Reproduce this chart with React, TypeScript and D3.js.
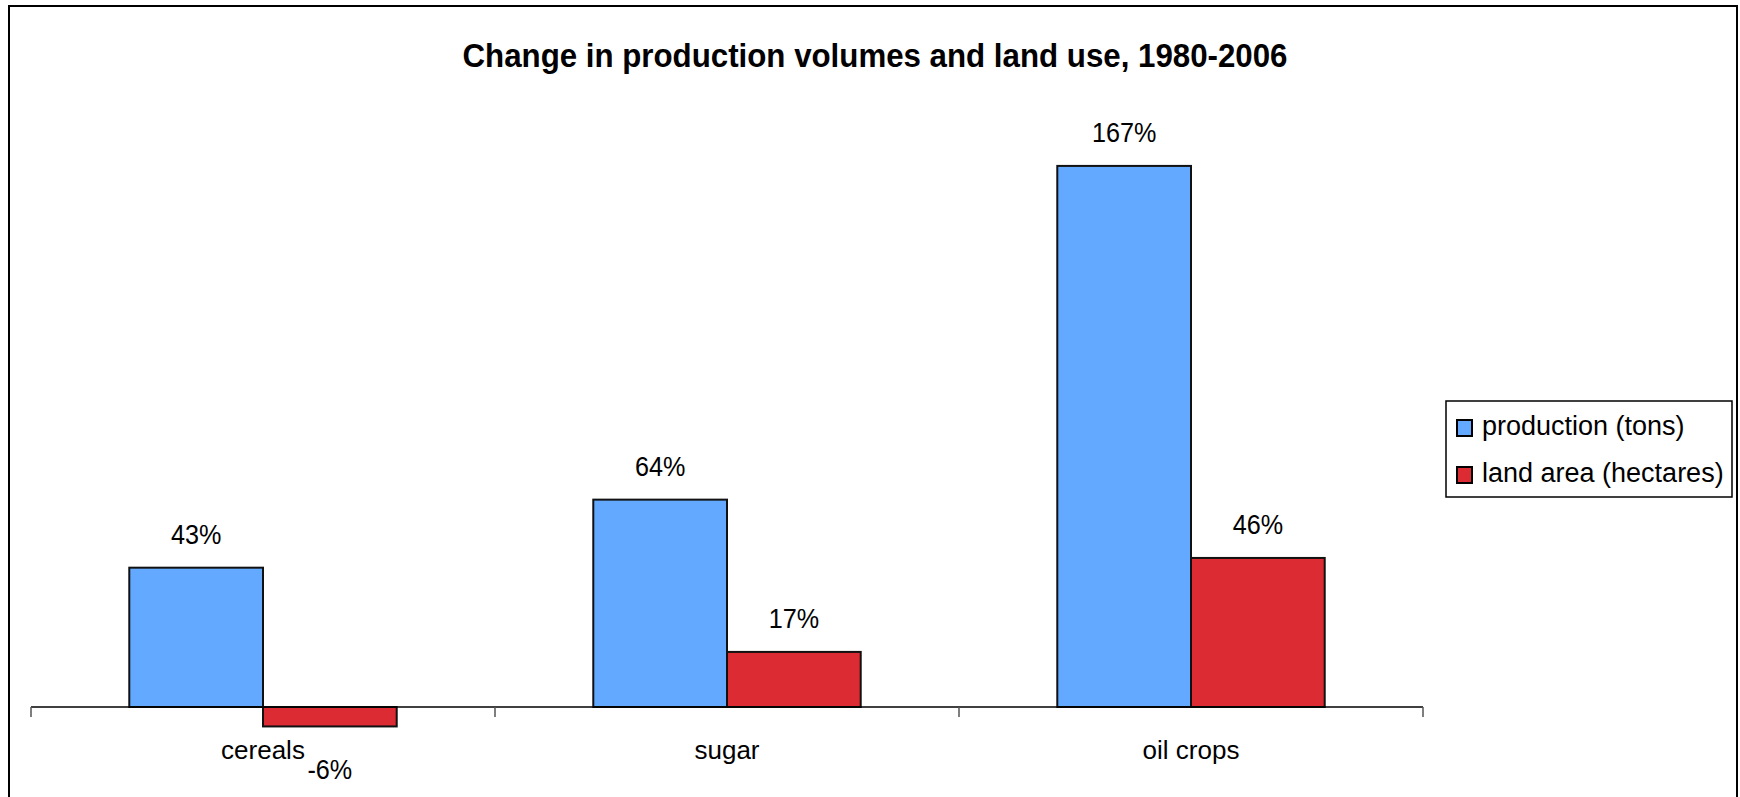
import React from "react";
import * as d3 from "d3";

const categories = ["cereals", "sugar", "oil crops"];
const seriesNames = ["production (tons)", "land area (hectares)"];
const production = [43, 64, 167];
const landArea = [-6, 17, 46];
const seriesValues = [production, landArea];
const seriesColors = ["#62A9FF", "#DC2B32"];

const title = "Change in production volumes and land use, 1980-2006";

const width = 1740;
const height = 797;
const font = "'Liberation Sans', Arial, sans-serif";

const App: React.FC = () => {
  const x = d3.scaleBand<string>().domain(categories).range([31, 1423]);

  const xInner = d3
    .scaleBand<number>()
    .domain(d3.range(seriesNames.length))
    .range([0, x.bandwidth()])
    .paddingInner(0)
    .paddingOuter(0.735);

  const y = d3.scaleLinear().domain([-20, 180]).range([771.8, 123.8]);
  const y0 = y(0);

  const [x0, x1] = x.range();
  const tickXs = [...categories.map((c) => x(c)!), x1];

  return (
    <div style={{ position: "absolute", left: 0, top: 0 }}>
      <svg width={width} height={height} style={{ display: "block", background: "#fff" }}>
        <rect x={9} y={6} width={1728} height={820} fill="#fff" stroke="#000" strokeWidth={2} />

        <text
          x={875}
          y={66.5}
          textAnchor="middle"
          fontFamily={font}
          fontWeight="bold"
          fontSize={33}
          textLength={825}
          lengthAdjust="spacingAndGlyphs"
        >
          {title}
        </text>

        {/* bars */}
        {categories.map((c, i) => (
          <g key={c} transform={`translate(${x(c)},0)`}>
            {seriesValues.map((vals, s) => {
              const v = vals[i];
              const top = Math.min(y(v), y0);
              const h = Math.abs(y(v) - y0);
              const bx = xInner(s)!;
              const cx = bx + xInner.bandwidth() / 2;
              const ly = v >= 0 ? y(v) - 23.5 : y(v) + 53;
              return (
                <g key={s}>
                  <rect
                    x={bx}
                    y={top}
                    width={xInner.bandwidth()}
                    height={h}
                    fill={seriesColors[s]}
                    stroke="#111"
                    strokeWidth={2}
                  />
                  <text
                    transform={`translate(${cx},${ly}) scale(0.9,1)`}
                    textAnchor="middle"
                    fontFamily={font}
                    fontSize={28}
                    fill="#000"
                  >
                    {v}%
                  </text>
                </g>
              );
            })}
          </g>
        ))}

        {/* category axis */}
        <line x1={x0} x2={x1} y1={y0} y2={y0} stroke="#000" strokeWidth={1.5} />
        {tickXs.map((tx, i) => (
          <line key={i} x1={tx} x2={tx} y1={y0} y2={y0 + 10} stroke="#555" strokeWidth={1.5} />
        ))}
        {categories.map((c) => (
          <text
            key={c}
            x={x(c)! + x.bandwidth() / 2}
            y={759}
            textAnchor="middle"
            fontFamily={font}
            fontSize={26}
            fill="#000"
          >
            {c}
          </text>
        ))}

        {/* legend */}
        <g transform="translate(1446,401)">
          <rect x={0} y={0} width={286} height={96} fill="#fff" stroke="#000" strokeWidth={1.5} />
          {seriesNames.map((name, s) => (
            <g key={name} transform={`translate(0,${s * 47})`}>
              <rect x={11} y={19} width={15} height={16} fill={seriesColors[s]} stroke="#000" strokeWidth={2} />
              <text x={36} y={34} fontFamily={font} fontSize={27} fill="#000">
                {name}
              </text>
            </g>
          ))}
        </g>
      </svg>
    </div>
  );
};

export default App;
